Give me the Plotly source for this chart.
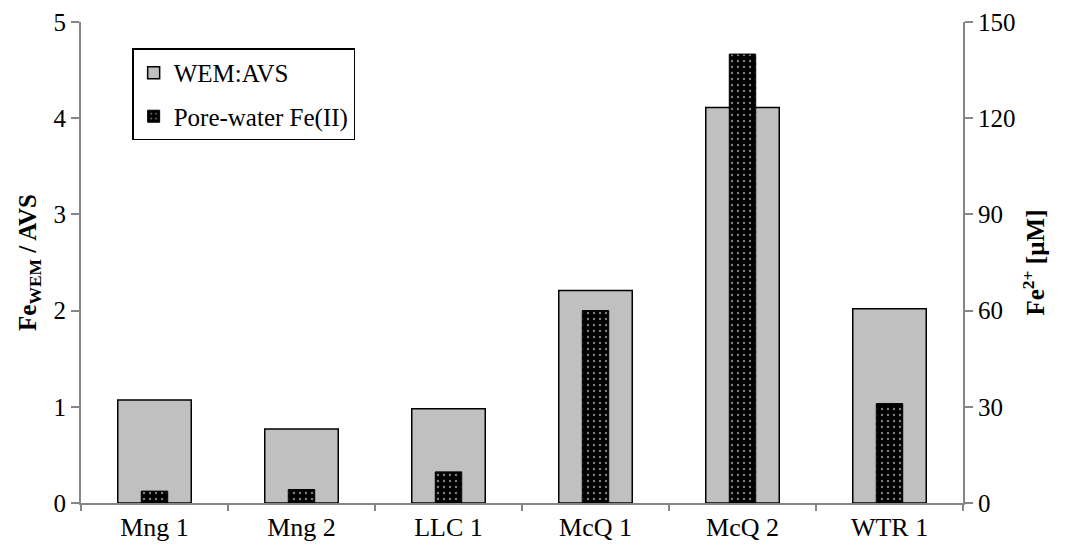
import plotly.graph_objects as go

categories = ["Mng 1", "Mng 2", "LLC 1", "McQ 1", "McQ 2", "WTR 1"]
wem_avs = [1.07, 0.77, 0.98, 2.21, 4.11, 2.02]
porewater_fe = [3.7, 4.2, 9.7, 60.0, 140.0, 31.0]
left_ticks = [0, 1, 2, 3, 4, 5]
right_ticks = [0, 30, 60, 90, 120, 150]

FONT = "Liberation Serif"
AXIS_COLOR = "#868686"

fig = go.Figure()
fig.add_trace(go.Bar(
    x=categories, y=wem_avs, name="WEM:AVS", yaxis="y",
    width=0.5, legendgroup="a",
    marker=dict(color="#C0C0C0", line=dict(color="black", width=1.5)),
))
fig.add_trace(go.Bar(
    x=categories, y=porewater_fe, name="Pore-water Fe(II)", yaxis="y2",
    width=0.18, legendgroup="b",
    marker=dict(color="black", line=dict(color="black", width=1),
                pattern=dict(shape=".", fgcolor="white", bgcolor="black",
                             size=6, solidity=0.12)),
))

# page body has an 8px default margin, so the figure is sized to fit
fig.update_layout(
    width=1065, height=540,
    margin=dict(l=73, r=110, t=14, b=45),
    paper_bgcolor="white", plot_bgcolor="white",
    barmode="overlay",
    font=dict(family=FONT, size=24, color="black"),
    showlegend=True,
    legend=dict(
        x=0.058, y=0.945, xanchor="left", yanchor="top",
        bordercolor="black", borderwidth=1.5, bgcolor="white",
        font=dict(family=FONT, size=25),
        tracegroupgap=8, traceorder="grouped",
        itemwidth=30,
    ),
    xaxis=dict(
        type="category", showline=True, linecolor=AXIS_COLOR, linewidth=2,
        ticks="outside", tickson="boundaries", ticklen=6, tickcolor=AXIS_COLOR,
        tickwidth=2, tickfont=dict(family=FONT, size=26), showgrid=False,
        automargin=False,
    ),
    yaxis=dict(
        range=[0, 5], tickvals=left_ticks, showline=True, linecolor=AXIS_COLOR,
        linewidth=2, ticks="outside", ticklen=8, tickcolor=AXIS_COLOR, tickwidth=2,
        showgrid=False, zeroline=False, tickfont=dict(family=FONT, size=25),
        automargin=False,
        title=dict(text="<b>Fe<sub>WEM</sub> / AVS</b>", font=dict(family=FONT, size=25),
                   standoff=10),
    ),
    yaxis2=dict(
        range=[0, 150], tickvals=right_ticks, overlaying="y", side="right",
        showline=True, linecolor=AXIS_COLOR, linewidth=2, ticks="outside",
        ticklen=8, tickcolor=AXIS_COLOR, tickwidth=2, showgrid=False, zeroline=False,
        tickfont=dict(family=FONT, size=25), automargin=False,
        title=dict(text="<b>Fe<sup>2+</sup> [µM]</b>", font=dict(family=FONT, size=25),
                   standoff=12),
    ),
)

fig.write_html("out.html")
